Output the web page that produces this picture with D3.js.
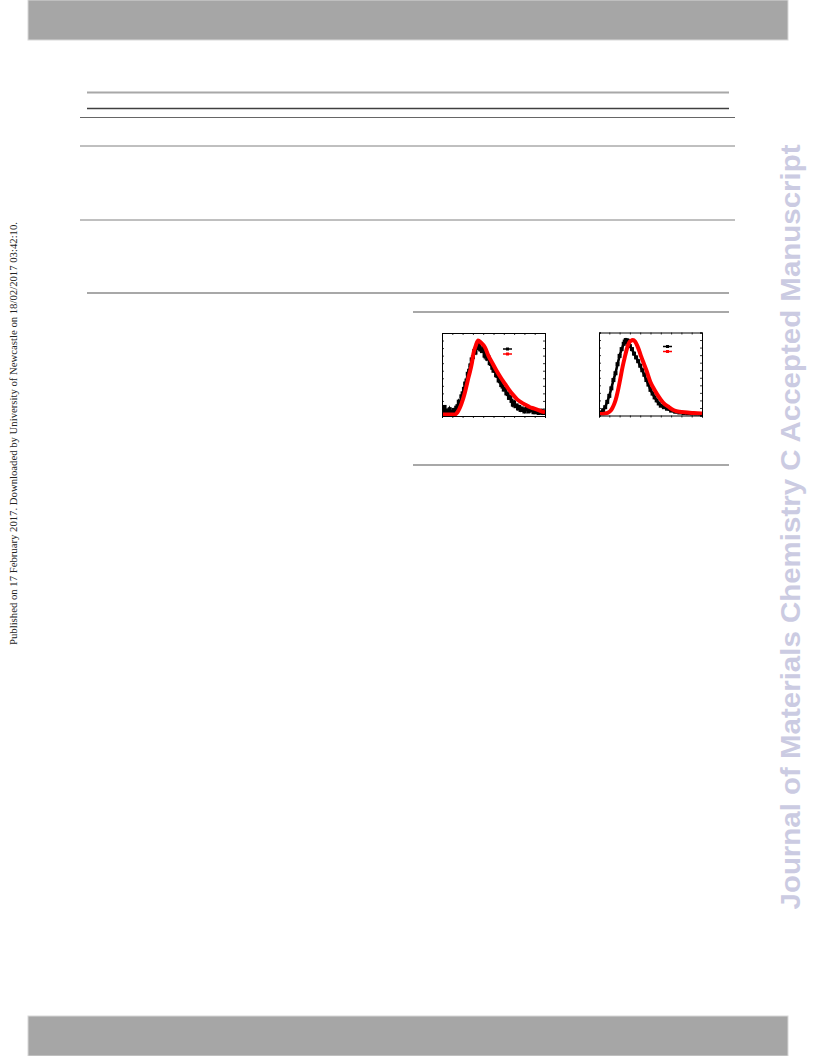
<!DOCTYPE html>
<html><head><meta charset="utf-8">
<script src="https://cdn.jsdelivr.net/npm/d3@7"></script>
<style>html,body{margin:0;padding:0;background:#fff;}svg{display:block;}</style>
</head><body>
<script>
// ---- Data (normalized intensity vs. normalized abscissa) ----
const p1BlackX = [0,1.3,2.5,3.8,5,6.3,7.5,8.8,10,11.3,12.5,13.8,15,16.3,17.5,18.8,20,21.3,22.5,23.8,25,26.3,27.5,28.8,30,31.3,32.5,33.8,35,36.3,37.5,38.8,40,41.3,42.5,43.8,45,46.3,47.5,48.8,50,51.3,52.5,53.8,55,56.3,57.5,58.8,60,61.3,62.5,63.8,65,66.3,67.5,68.8,70,71.3,72.5,73.8,75,76.3,77.5,78.8,80,81.3,82.5,83.8,85,86.3,87.5,88.8,90,91.3,92.5,93.8,95,96.3,97.5,98.8,100];
const p1BlackY = [0.05,0.03,0.12,0.04,0.07,0.03,0.09,0.05,0.04,0.08,0.06,0.11,0.13,0.19,0.16,0.26,0.3,0.36,0.43,0.47,0.56,0.6,0.67,0.75,0.78,0.86,0.84,0.93,0.9,0.97,0.88,0.86,0.9,0.8,0.84,0.76,0.78,0.7,0.69,0.64,0.6,0.6,0.54,0.53,0.47,0.46,0.41,0.39,0.35,0.36,0.3,0.29,0.24,0.25,0.2,0.15,0.18,0.13,0.14,0.1,0.12,0.08,0.1,0.08,0.06,0.09,0.1,0.06,0.07,0.1,0.08,0.05,0.07,0.05,0.06,0.04,0.05,0.07,0.04,0.06,0.04];
const p1RedX = [0,10,12.6,15,19.1,22,25.5,29,30.4,33,35,38,41.7,45,49,53,57,61,65,69,73,77,81,85,89,93,97,100];
const p1RedY = [0.02,0.02,0.02,0.05,0.17,0.3,0.5,0.7,0.82,0.94,1.0,0.97,0.91,0.8,0.7,0.6,0.51,0.43,0.35,0.28,0.22,0.18,0.15,0.12,0.1,0.08,0.06,0.05];

const p2BlackX = [0,2,4,6,8,10,12,14,16,18,20,22,24,25,26,27,28,29,30,32,34,36,38,40,42,44,46,48,50,52,54,56,58,60,63,66,70,74,78,82,86,90,94,98,100];
const p2BlackY = [0.03,0.04,0.07,0.11,0.18,0.26,0.36,0.47,0.56,0.68,0.79,0.88,0.95,0.98,1.0,0.97,0.99,0.94,0.92,0.88,0.82,0.77,0.72,0.66,0.6,0.54,0.47,0.41,0.34,0.29,0.24,0.2,0.16,0.13,0.11,0.09,0.065,0.05,0.04,0.032,0.027,0.022,0.02,0.018,0.017];
const p2RedX = [0,4,7,9,11,13,15,17,19,21,23,25,27,29,31,33,35,37,39,41,43.5,46,50,53,56.5,60,63,67,72.7,78,85.8,92,100];
const p2RedY = [0.02,0.02,0.03,0.04,0.06,0.1,0.16,0.25,0.37,0.51,0.65,0.77,0.88,0.96,0.99,1.0,0.98,0.93,0.86,0.78,0.69,0.6,0.44,0.36,0.28,0.21,0.16,0.12,0.07,0.05,0.04,0.032,0.027];

const xDomain = [0, 100];
const yDomain = [0, 1.1];
const xTickCount = 12;
const yTickCount = 11;

const sideNote = "Published on 17 February 2017. Downloaded by University of Newcastle on 18/02/2017 03:42:10.";
const watermark = "Journal of Materials Chemistry C Accepted Manuscript";

// ---- Page ----
const W = 816, H = 1056;
const svg = d3.select("body").append("svg").attr("width", W).attr("height", H);
svg.append("rect").attr("width", W).attr("height", H).attr("fill", "#fff");

// header / footer bars
svg.append("rect").attr("x", 28).attr("y", 0).attr("width", 760).attr("height", 40)
  .attr("fill", "#a6a6a6").attr("stroke", "#d8d8d8").attr("stroke-width", 1);
svg.append("rect").attr("x", 28).attr("y", 1016).attr("width", 760).attr("height", 40)
  .attr("fill", "#a6a6a6").attr("stroke", "#d8d8d8").attr("stroke-width", 1);

// table rules
const rules = [
  {x1: 87, x2: 729, y: 92.5, c: "#a8a8a8", w: 2},
  {x1: 87, x2: 729, y: 108.5, c: "#404040", w: 1.5},
  {x1: 80, x2: 735, y: 117.5, c: "#666", w: 1},
  {x1: 80, x2: 735, y: 146, c: "#808080", w: 1},
  {x1: 80, x2: 735, y: 220, c: "#808080", w: 1},
  {x1: 87, x2: 729, y: 293, c: "#a8a8a8", w: 2},
  {x1: 413, x2: 729, y: 312, c: "#a8a8a8", w: 2},
  {x1: 413, x2: 729, y: 465, c: "#a8a8a8", w: 2}
];
svg.selectAll("line.rule").data(rules).join("line").attr("class", "rule")
  .attr("x1", d => d.x1).attr("x2", d => d.x2).attr("y1", d => d.y).attr("y2", d => d.y)
  .attr("stroke", d => d.c).attr("stroke-width", d => d.w);

// side note (left)
svg.append("text").attr("transform", "translate(13,433.5) rotate(-90)")
  .attr("text-anchor", "middle").attr("dominant-baseline", "central")
  .attr("font-family", "'Liberation Serif', 'Times New Roman', serif").attr("font-size", 10.5)
  .attr("fill", "#222").attr("textLength", 423).attr("lengthAdjust", "spacingAndGlyphs")
  .text(sideNote);

// watermark (right)
svg.append("text").attr("transform", "translate(791,527) rotate(-90)")
  .attr("text-anchor", "middle").attr("dominant-baseline", "central")
  .attr("font-family", "'Liberation Sans', Arial, sans-serif").attr("font-weight", "bold")
  .attr("font-size", 27).attr("fill", "#cbcbe2")
  .attr("textLength", 765).attr("lengthAdjust", "spacingAndGlyphs")
  .text(watermark);

// ---- Charts ----
function drawPanel(id, left, top, bx, by, rx, ry, legX, legY) {
  const w = 103, h = 83;
  const g = svg.append("g").attr("transform", `translate(${left},${top})`);
  const x = d3.scaleLinear().domain(xDomain).range([0, w]);
  const y = d3.scaleLinear().domain(yDomain).range([h, 0]);

  g.append("clipPath").attr("id", "clip" + id).append("rect")
    .attr("x", 0).attr("y", 0).attr("width", w).attr("height", h);
  const plot = g.append("g").attr("clip-path", `url(#clip${id})`);

  const blk = bx.map((v, i) => [v, by[i]]);
  const red = rx.map((v, i) => [v, ry[i]]);
  const line = d3.line().x(d => x(d[0])).y(d => y(d[1]));
  const curve = d3.line().x(d => x(d[0])).y(d => y(d[1])).curve(d3.curveMonotoneX);

  plot.append("path").attr("d", line(blk)).attr("fill", "none").attr("stroke", "#000").attr("stroke-width", 2.6);
  plot.selectAll("rect.m").data(blk).join("rect").attr("class", "m")
    .attr("x", d => x(d[0]) - 2).attr("y", d => y(d[1]) - 2)
    .attr("width", 4).attr("height", 4).attr("fill", "#000");
  plot.append("path").attr("d", curve(red)).attr("fill", "none").attr("stroke", "#f00")
    .attr("stroke-width", 4).attr("stroke-linejoin", "round");

  // axes: ticks on all sides, no labels
  const tk = 2;
  g.append("g").attr("transform", `translate(0,${h})`)
    .call(d3.axisBottom(x).ticks(xTickCount).tickSize(tk).tickFormat(""));
  g.append("g").call(d3.axisTop(x).ticks(xTickCount).tickSize(-tk).tickFormat(""));
  g.append("g").call(d3.axisLeft(y).ticks(yTickCount).tickSize(-tk).tickFormat(""));
  g.append("g").attr("transform", `translate(${w},0)`)
    .call(d3.axisRight(y).ticks(yTickCount).tickSize(-tk).tickFormat(""));
  g.selectAll(".domain").attr("stroke", "#000").attr("stroke-width", 1);
  g.selectAll(".tick line").attr("stroke", "#000").attr("stroke-width", 0.8);

  // legend
  const lg = g.append("g").attr("transform", `translate(${legX},${legY})`);
  lg.append("line").attr("x1", 0).attr("x2", 9).attr("y1", 0).attr("y2", 0).attr("stroke", "#000").attr("stroke-width", 1.5);
  lg.append("rect").attr("x", 3).attr("y", -1.5).attr("width", 3).attr("height", 3).attr("fill", "#000");
  lg.append("line").attr("x1", 0).attr("x2", 9).attr("y1", 5).attr("y2", 5).attr("stroke", "#f00").attr("stroke-width", 1.5);
  lg.append("rect").attr("x", 3).attr("y", 3.5).attr("width", 3).attr("height", 3).attr("fill", "#f00");
}

drawPanel(1, 442, 333, p1BlackX, p1BlackY, p1RedX, p1RedY, 61, 16);
drawPanel(2, 599, 332.5, p2BlackX, p2BlackY, p2RedX, p2RedY, 64, 14);
</script>
</body></html>
